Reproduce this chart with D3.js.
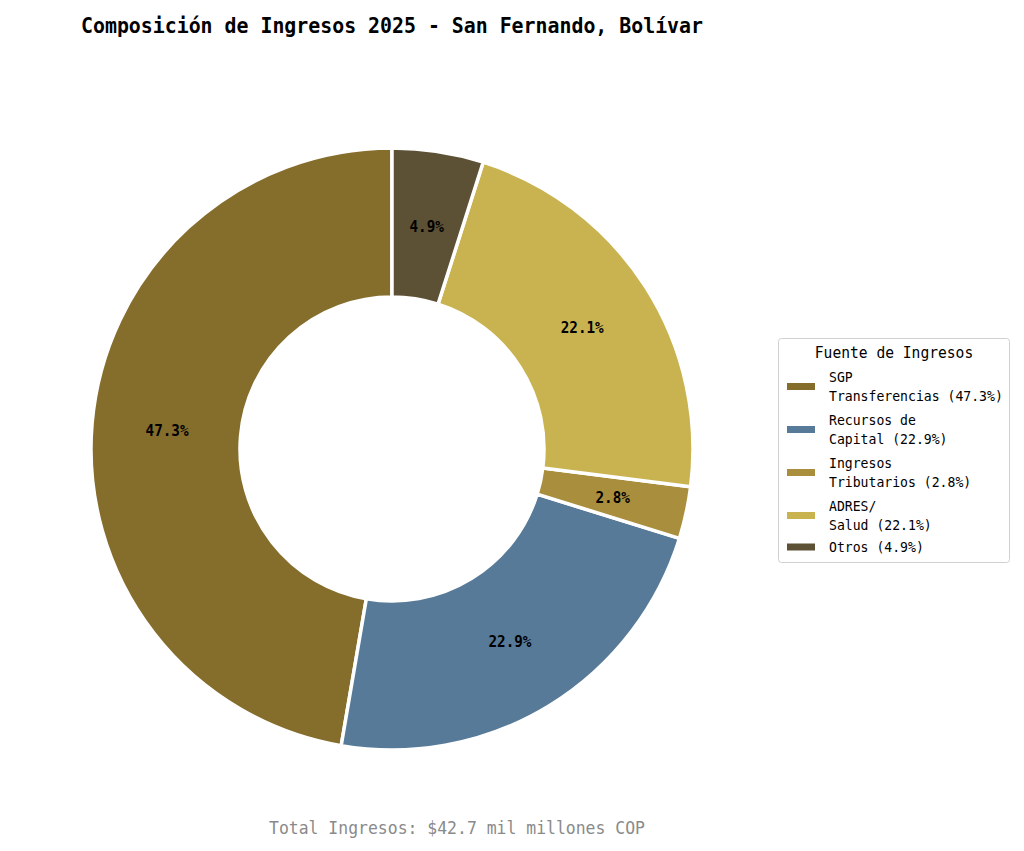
<!DOCTYPE html>
<html><head><meta charset="utf-8">
<script src="https://cdn.jsdelivr.net/npm/d3@7"></script>
<style>body{margin:0;background:#fff;} svg{display:block;}</style>
</head><body>
<svg id="chart" width="1024" height="851"></svg>
<script>
const categories = ["SGP Transferencias", "Recursos de Capital", "Ingresos Tributarios", "ADRES/ Salud", "Otros"];
const legendLines = [["SGP", "Transferencias (47.3%)"], ["Recursos de", "Capital (22.9%)"], ["Ingresos", "Tributarios (2.8%)"], ["ADRES/", "Salud (22.1%)"], ["Otros (4.9%)"]];
const values = [47.3, 22.9, 2.8, 22.1, 4.9];
const colors = ["#856d2c", "#587a99", "#a98f3d", "#c9b350", "#5c5035"];
const titleText = "Composición de Ingresos 2025 - San Fernando, Bolívar";
const legendTitle = "Fuente de Ingresos";
const footerText = "Total Ingresos: $42.7 mil millones COP";

const svg = d3.select("#chart");
const font = "'DejaVu Sans Mono', 'Liberation Mono', monospace";
const cx = 392, cy = 449, R = 301, r = 152;

function condensed(sel, text, size, perChar) {
  sel.attr("font-family", font).attr("font-size", size)
    .attr("textLength", text.length * perChar).attr("lengthAdjust", "spacingAndGlyphs").text(text);
  return sel;
}

condensed(svg.append("text").attr("x", 81).attr("y", 33)
  .attr("font-weight", "bold").attr("fill", "#000"), titleText, 22, 622 / titleText.length);

const pie = d3.pie().sort(null).startAngle(0).endAngle(-2 * Math.PI);
const arcs = pie(values);
const arc = d3.arc().innerRadius(r).outerRadius(R);
const labelArc = d3.arc().innerRadius(0.75 * R).outerRadius(0.75 * R);

const g = svg.append("g").attr("transform", `translate(${cx},${cy})`);
g.selectAll("path").data(arcs).join("path")
  .attr("d", arc).attr("fill", (d, i) => colors[i])
  .attr("stroke", "#fff").attr("stroke-width", 3.5).attr("stroke-linejoin", "miter");

g.selectAll("text.lbl").data(arcs).join("text").attr("class", "lbl")
  .attr("transform", d => `translate(${labelArc.centroid(d)})`)
  .attr("text-anchor", "middle").attr("dy", "0.36em")
  .attr("font-weight", "bold").attr("fill", "#000")
  .each(function (d) { condensed(d3.select(this), d.data.toFixed(1) + "%", 16, 8.6); });

// legend
const lg = svg.append("g");
lg.append("rect").attr("x", 778.5).attr("y", 338.5).attr("width", 231).attr("height", 224)
  .attr("rx", 3).attr("fill", "#fff").attr("stroke", "#d0d0d0").attr("stroke-width", 1);
condensed(lg.append("text").attr("x", 894).attr("y", 358).attr("text-anchor", "middle").attr("fill", "#000"),
  legendTitle, 15.5, 8.8);
const patchY = [386.5, 429.5, 472.5, 515.5, 547];
legendLines.forEach((lines, i) => {
  lg.append("rect").attr("x", 787).attr("y", patchY[i] - 3.5).attr("width", 28).attr("height", 7)
    .attr("fill", colors[i]);
  const n = lines.length;
  lines.forEach((t, j) => {
    const y = patchY[i] + 5 + (j - (n - 1) / 2) * 19;
    condensed(lg.append("text").attr("x", 829).attr("y", y).attr("fill", "#000"), t, 14.5, 7.9);
  });
});

condensed(svg.append("text").attr("x", 457).attr("y", 834).attr("text-anchor", "middle")
  .attr("fill", "#8a8a8a"), footerText, 17.5, 376 / footerText.length);
</script>
</body></html>
